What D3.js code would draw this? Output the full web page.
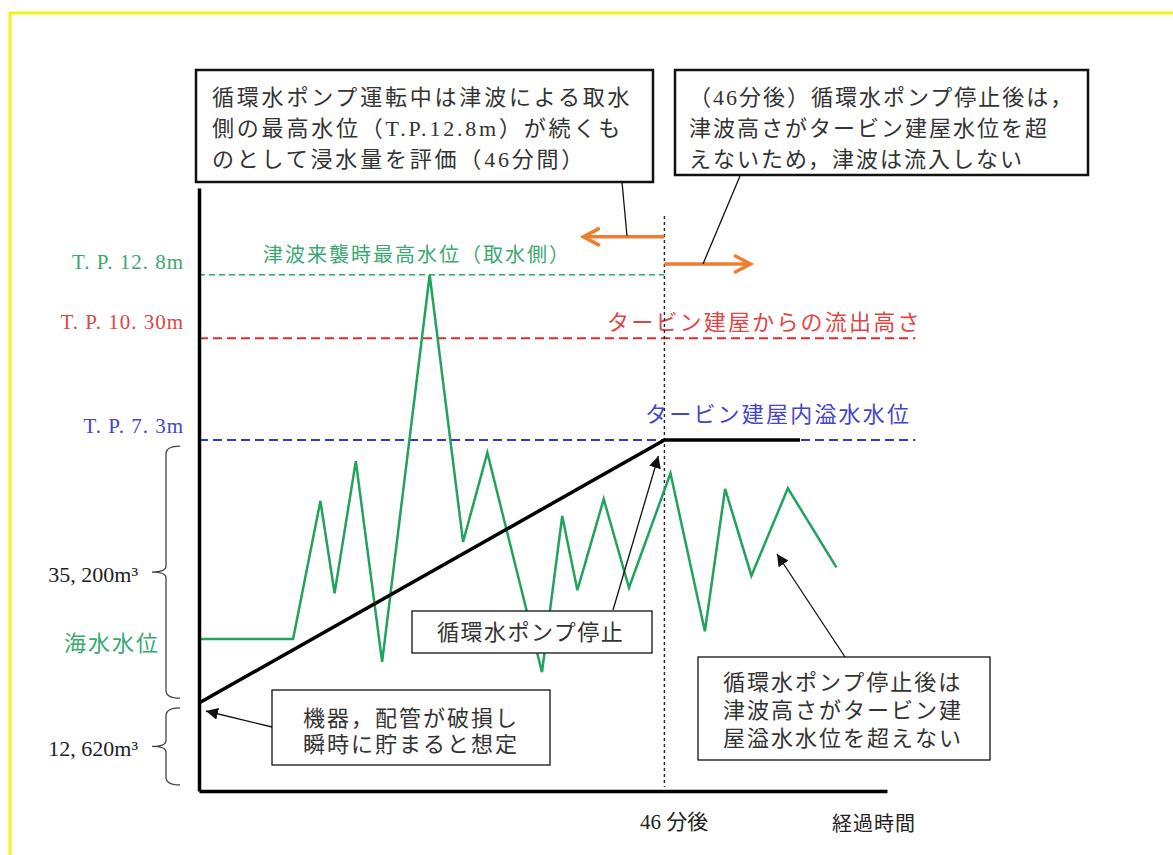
<!DOCTYPE html>
<html>
<head>
<meta charset="utf-8">
<script src="https://cdn.jsdelivr.net/npm/d3@7"></script>
<style>
  body { margin: 0; background: #fff; }
  text { font-family: "Liberation Serif", "Noto Sans CJK JP", serif; }
</style>
</head>
<body>
<div id="chart"></div>
<script>
var width = 1173,
    height = 855;

// schematic: time in minutes, level in relative units (0 = bottom of axis, 100 = top)
var seaTime  = [0, 9.3, 12.0, 13.4, 15.5, 18.1, 22.8, 26.1, 28.5, 33.9, 35.9, 37.4, 40.0, 42.5, 46.6, 50.0, 52.0, 54.6, 58.2, 63.0];
var seaLevel = [25.2, 25.2, 48.1, 32.8, 54.7, 21.4, 85.6, 41.3, 56.1, 19.7, 45.6, 33.3, 48.4, 33.7, 52.7, 26.5, 50.1, 35.7, 50.2, 37.1];

var storedTime  = [0, 46, 59.4];
var storedLevel = [14.6, 58.2, 58.2];

var refLabels   = ["T. P. 12. 8m", "T. P. 10. 30m", "T. P. 7. 3m"];
var refLevel    = [85.6, 75.1, 58.2];
var refEnd      = [46, 70.8, 70.8];
var refCaptions = ["津波来襲時最高水位（取水側）", "タービン建屋からの流出高さ", "タービン建屋内溢水水位"];
var refColors   = ["#2fa866", "#e62a2a", "#3434d8"];
var refText     = ["#3aa870", "#e04545", "#4444cc"];

var volumeLabels = ["35, 200m³", "12, 620m³"];
var volumeFrom   = [15.4, 1.0];
var volumeTo     = [57.2, 13.8];

var stopTime = 46,
    maxTime = 68;

var green = "#20a35a",
    orange = "#ed7d31";

var x = d3.scaleLinear().domain([0, maxTime]).range([199, 887]);
var y = d3.scaleLinear().domain([0, 100]).range([791, 188]);

var svg = d3.select("#chart").append("svg")
    .attr("width", width)
    .attr("height", height);

var defs = svg.append("defs");
defs.append("marker")
    .attr("id", "tri")
    .attr("viewBox", "0 0 10 10")
    .attr("refX", 10).attr("refY", 5)
    .attr("markerWidth", 12).attr("markerHeight", 12)
    .attr("markerUnits", "userSpaceOnUse")
    .attr("orient", "auto")
    .append("path").attr("d", "M0,0 L10,5 L0,10 z").attr("fill", "#111");

// yellow frame
svg.append("rect")
    .attr("x", 10).attr("y", 13)
    .attr("width", 1300).attr("height", 1000)
    .attr("fill", "none")
    .attr("stroke", "#f2f21e")
    .attr("stroke-width", 3);

// reference levels
refLevel.forEach(function (v, i) {
    svg.append("line")
        .attr("x1", x(0)).attr("x2", x(refEnd[i]))
        .attr("y1", y(v)).attr("y2", y(v))
        .attr("stroke", refColors[i])
        .attr("stroke-width", i === 0 ? 1.5 : 2)
        .attr("stroke-dasharray", i === 0 ? "6,4" : "9,5");
    svg.append("text")
        .attr("x", 184).attr("y", y(v) - [13, 16, 14][i])
        .attr("text-anchor", "end")
        .attr("dominant-baseline", "central")
        .attr("font-size", 21)
        .attr("letter-spacing", 1)
        .attr("fill", refText[i])
        .text(refLabels[i]);
});

var captionPos = [[263, 255], [607, 322], [645, 414]];
refCaptions.forEach(function (c, i) {
    svg.append("text")
        .attr("x", captionPos[i][0]).attr("y", captionPos[i][1])
        .attr("dominant-baseline", "central")
        .attr("font-size", i === 0 ? 20 : 22)
        .attr("letter-spacing", i === 0 ? 2 : 2.2)
        .attr("fill", refText[i])
        .text(c);
});

// 46 min marker
svg.append("line")
    .attr("x1", x(stopTime)).attr("x2", x(stopTime))
    .attr("y1", 216).attr("y2", 787)
    .attr("stroke", "#222")
    .attr("stroke-width", 1.4)
    .attr("stroke-dasharray", "3,3");

// orange arrows
function orangeArrow(t0, t1, v) {
    var yy = y(v), x0 = x(t0), x1 = x(t1), d = x1 > x0 ? -1 : 1;
    svg.append("line")
        .attr("x1", x0).attr("x2", x1)
        .attr("y1", yy).attr("y2", yy)
        .attr("stroke", orange).attr("stroke-width", 3.5);
    svg.append("path")
        .attr("d", "M" + (x1 + d * 15) + "," + (yy - 8) + " L" + x1 + "," + yy + " L" + (x1 + d * 15) + "," + (yy + 8))
        .attr("fill", "none")
        .attr("stroke", orange).attr("stroke-width", 3.5)
        .attr("stroke-linecap", "round");
}
orangeArrow(stopTime, 38.0, 91.9);
orangeArrow(stopTime, 54.5, 87.4);

// sea water level
var line = d3.line()
    .x(function (d) { return x(d[0]); })
    .y(function (d) { return y(d[1]); });

svg.append("path")
    .datum(d3.zip(seaTime, seaLevel))
    .attr("d", line)
    .attr("fill", "none")
    .attr("stroke", green)
    .attr("stroke-width", 2.5)
    .attr("stroke-linejoin", "miter");

// stored volume
svg.append("path")
    .datum(d3.zip(storedTime, storedLevel))
    .attr("d", line)
    .attr("fill", "none")
    .attr("stroke", "#000")
    .attr("stroke-width", 3.5);

// axes
svg.append("g")
    .attr("transform", "translate(" + x(0) + ",0)")
    .call(d3.axisLeft(y).tickValues([]).tickSizeOuter(0))
    .select(".domain").attr("stroke", "#000").attr("stroke-width", 3.5);
svg.append("g")
    .attr("transform", "translate(0," + y(0) + ")")
    .call(d3.axisBottom(x).tickValues([]).tickSizeOuter(0))
    .select(".domain").attr("stroke", "#000").attr("stroke-width", 3.5);

// braces with volumes
volumeLabels.forEach(function (lab, i) {
    var y1 = y(volumeTo[i]), y2 = y(volumeFrom[i]), ym = (y1 + y2) / 2, bx = 166;
    svg.append("path")
        .attr("d", "M180," + y1 + " Q" + bx + "," + y1 + " " + bx + "," + (y1 + 8) +
            " L" + bx + "," + (ym - 6) + " Q" + bx + "," + ym + " 152," + ym +
            " Q" + bx + "," + ym + " " + bx + "," + (ym + 6) +
            " L" + bx + "," + (y2 - 8) + " Q" + bx + "," + y2 + " 180," + y2)
        .attr("fill", "none")
        .attr("stroke", "#444")
        .attr("stroke-width", 1.3);
    svg.append("text")
        .attr("x", 138).attr("y", ym + 2)
        .attr("text-anchor", "end")
        .attr("dominant-baseline", "central")
        .attr("font-size", 22)
        .attr("fill", "#222")
        .text(lab);
});

svg.append("text")
    .attr("x", 160).attr("y", 643)
    .attr("text-anchor", "end")
    .attr("dominant-baseline", "central")
    .attr("font-size", 22)
    .attr("letter-spacing", 2)
    .attr("fill", refText[0])
    .text("海水水位");

// bottom labels
svg.append("text")
    .attr("x", 640).attr("y", 822)
    .attr("dominant-baseline", "central")
    .attr("font-size", 21)
    .attr("fill", "#222")
    .text("46 分後");
svg.append("text")
    .attr("x", 832).attr("y", 824)
    .attr("dominant-baseline", "central")
    .attr("font-size", 20)
    .attr("letter-spacing", 1)
    .attr("fill", "#222")
    .text("経過時間");

// callout boxes
function box(bx, by, bw, bh, sw, lines, tx, ty, dy, fs, ls) {
    svg.append("rect")
        .attr("x", bx).attr("y", by)
        .attr("width", bw).attr("height", bh)
        .attr("fill", "#fff")
        .attr("stroke", "#111")
        .attr("stroke-width", sw);
    lines.forEach(function (l, i) {
        svg.append("text")
            .attr("x", tx).attr("y", ty + i * dy)
            .attr("dominant-baseline", "central")
            .attr("font-size", fs)
            .attr("letter-spacing", ls)
            .attr("fill", "#333")
            .text(l);
    });
}

function leader(x1, y1, x2, y2, head) {
    var l = svg.append("line")
        .attr("x1", x1).attr("y1", y1)
        .attr("x2", x2).attr("y2", y2)
        .attr("stroke", "#111")
        .attr("stroke-width", 1.3);
    if (head) l.attr("marker-end", "url(#tri)");
}

leader(622, 182, 627, 236, false);
leader(740, 176, 703, 264, false);
box(196, 70, 457, 112, 2.5,
    ["循環水ポンプ運転中は津波による取水", "側の最高水位（T.P.12.8m）が続くも", "のとして浸水量を評価（46分間）"],
    212, 97, 31, 22, 2.8);
box(675, 70, 413, 105, 2.5,
    ["（46分後）循環水ポンプ停止後は，", "津波高さがタービン建屋水位を超", "えないため，津波は流入しない"],
    689, 97, 31, 22, 2);

leader(613, 610, x(stopTime) - 6, 456, true);
box(412, 611, 240, 42, 1.3, ["循環水ポンプ停止"], 437, 632, 0, 22, 1.5);

leader(272, 727, 206, 711, true);
box(272, 690, 278, 75, 1.3, ["機器，配管が破損し", "瞬時に貯まると想定"], 303, 718, 26, 22, 2);

leader(845, 657, 777, 554, true);
box(698, 657, 292, 103, 1.3, ["循環水ポンプ停止後は", "津波高さがタービン建", "屋溢水水位を超えない"], 723, 682, 28, 22, 2);
</script>
</body>
</html>
